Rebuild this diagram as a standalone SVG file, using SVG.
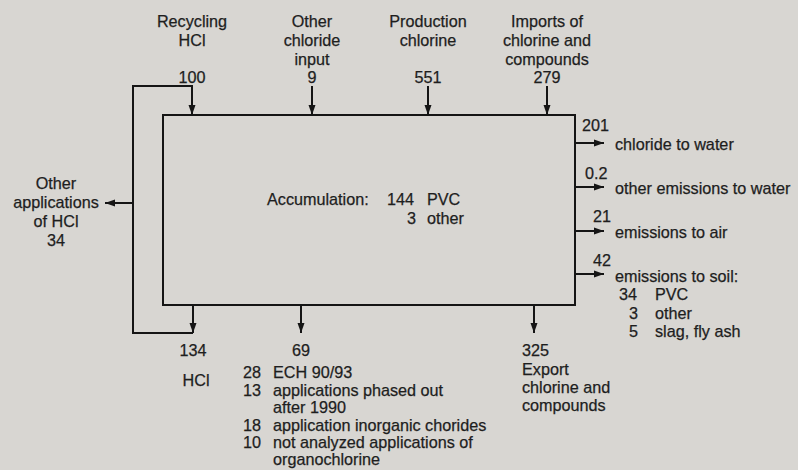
<svg xmlns="http://www.w3.org/2000/svg" width="798" height="470" viewBox="0 0 798 470">
<style>
text{font-family:"Liberation Sans",Arial,sans-serif;font-size:16.2px;fill:#1e1e1e;stroke:#1e1e1e;stroke-width:0.25}
.m{text-anchor:middle}
.e{text-anchor:end}
.ln{fill:none;stroke:#151515;stroke-width:2}
</style>
<defs>
<marker id="ah" markerUnits="userSpaceOnUse" markerWidth="10" markerHeight="8" refX="10" refY="4" orient="auto">
<path d="M0,0.5 L10,4 L0,7.5 z" fill="#151515"/>
</marker>
</defs>
<rect width="798" height="470" fill="#d8d6d2"/>

<g id="connectors">
<path class="ln" d="M193,305 V333" marker-end="url(#ah)"/>
<path class="ln" d="M193,333 H133 V86 H192 V115" marker-end="url(#ah)"/>
<path class="ln" d="M133,203 H105" marker-end="url(#ah)"/>
<path class="ln" d="M312,86 V115" marker-end="url(#ah)"/>
<path class="ln" d="M428,86 V115" marker-end="url(#ah)"/>
<path class="ln" d="M547,86 V115" marker-end="url(#ah)"/>
<path class="ln" d="M575,143 H604" marker-end="url(#ah)"/>
<path class="ln" d="M575,187 H604" marker-end="url(#ah)"/>
<path class="ln" d="M575,231 H604" marker-end="url(#ah)"/>
<path class="ln" d="M575,274 H604" marker-end="url(#ah)"/>
<path class="ln" d="M301,305 V333" marker-end="url(#ah)"/>
<path class="ln" d="M534,305 V333" marker-end="url(#ah)"/>
</g>

<g id="box">
<rect x="163" y="115" width="412" height="190" class="ln"/>
<text x="267" y="205">Accumulation:</text>
<text x="387" y="205">144</text>
<text x="427" y="205">PVC</text>
<text x="416" y="224" class="e">3</text>
<text x="427" y="224">other</text>
</g>

<g id="recycling-hcl">
<text x="192" y="27" class="m">Recycling</text>
<text x="192" y="46" class="m">HCl</text>
<text x="192" y="83" class="m">100</text>
</g>

<g id="other-chloride-input">
<text x="312" y="27" class="m">Other</text>
<text x="312" y="46" class="m">chloride</text>
<text x="312" y="65" class="m">input</text>
<text x="312" y="83" class="m">9</text>
</g>

<g id="production-chlorine">
<text x="428" y="27" class="m">Production</text>
<text x="428" y="46" class="m">chlorine</text>
<text x="428" y="83" class="m">551</text>
</g>

<g id="imports">
<text x="547" y="27" class="m">Imports of</text>
<text x="547" y="46" class="m">chlorine and</text>
<text x="547" y="65" class="m">compounds</text>
<text x="547" y="83" class="m">279</text>
</g>

<g id="other-applications-hcl">
<text x="56" y="189" class="m">Other</text>
<text x="56" y="208" class="m">applications</text>
<text x="56" y="227" class="m">of HCl</text>
<text x="56" y="246" class="m">34</text>
</g>

<g id="chloride-to-water">
<text x="582" y="131">201</text>
<text x="615" y="150">chloride to water</text>
</g>

<g id="other-emissions-water">
<text x="585" y="179">0.2</text>
<text x="615" y="194">other emissions to water</text>
</g>

<g id="emissions-air">
<text x="593" y="222">21</text>
<text x="615" y="238">emissions to air</text>
</g>

<g id="emissions-soil">
<text x="593" y="266">42</text>
<text x="615" y="282">emissions to soil:</text>
<text x="619" y="300">34</text>
<text x="655" y="300">PVC</text>
<text x="638" y="319" class="e">3</text>
<text x="655" y="319">other</text>
<text x="638" y="337" class="e">5</text>
<text x="655" y="337">slag, fly ash</text>
</g>

<g id="hcl-out">
<text x="193" y="356" class="m">134</text>
<text x="196" y="386" class="m">HCl</text>
</g>

<g id="applications">
<text x="301" y="356" class="m">69</text>
<text x="243" y="378">28</text>
<text x="273" y="378">ECH 90/93</text>
<text x="243" y="396">13</text>
<text x="273" y="396">applications phased out</text>
<text x="273" y="413">after 1990</text>
<text x="243" y="431">18</text>
<text x="273" y="431">application inorganic chorides</text>
<text x="243" y="448">10</text>
<text x="273" y="448">not analyzed applications of</text>
<text x="273" y="465">organochlorine</text>
</g>

<g id="export">
<text x="522" y="356">325</text>
<text x="522" y="375">Export</text>
<text x="522" y="393">chlorine and</text>
<text x="522" y="411">compounds</text>
</g>
</svg>
